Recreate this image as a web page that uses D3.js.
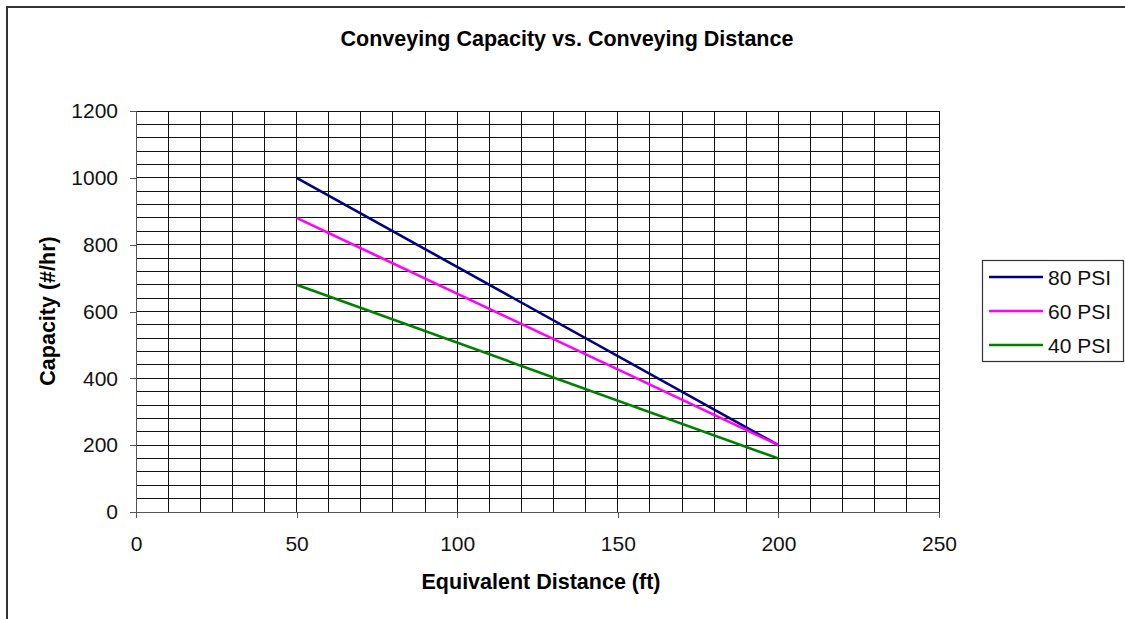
<!DOCTYPE html>
<html>
<head>
<meta charset="utf-8">
<script src="https://cdn.jsdelivr.net/npm/d3@7"></script>
<style>
    body { margin: 0; background: white; }
    svg { display: block; }
</style>
</head>
<body>
<script>

const distances = [50, 200]
const psi80 = [1000, 200]
const psi60 = [880, 200]
const psi40 = [680, 160]

const seriesNames = ['80 PSI', '60 PSI', '40 PSI']
const seriesColors = ['#000080', '#ff00ff', '#008000']

const xTicks = [0, 50, 100, 150, 200, 250]
const yTicks = [0, 200, 400, 600, 800, 1000, 1200]

const font = "'Liberation Sans', Arial, sans-serif"

let chart = {}

function setupChart (){

    chart.width = 1125
    chart.height = 619
    chart.left = 136
    chart.right = 939
    chart.top = 111
    chart.bottom = 512

    const svg = d3.select('body')
        .append('svg')
        .attr('width', chart.width)
        .attr('height', chart.height)

    // outer chart border, runs off the right and bottom of the window
    svg.append('rect')
        .attr('x', 7)
        .attr('y', 7)
        .attr('width', 1140)
        .attr('height', 640)
        .attr('fill', 'white')
        .attr('stroke', '#333')
        .attr('stroke-width', 2)

    const x = d3.scaleLinear().domain([0, 250]).range([chart.left, chart.right])
    const y = d3.scaleLinear().domain([0, 1200]).range([chart.bottom, chart.top])

    addGrid(svg, x, y)
    addAxes(svg, x, y)
    addLines(svg, x, y)
    addLegend(svg)

    svg.append('text')
        .text('Conveying Capacity vs. Conveying Distance')
        .attr('x', 567)
        .attr('y', 46)
        .style('font-family', font)
        .style('font-weight', 'bold')
        .style('font-size', '21.5px')
        .style('text-anchor', 'middle')

    svg.append('text')
        .text('Equivalent Distance (ft)')
        .attr('x', 541)
        .attr('y', 589)
        .style('font-family', font)
        .style('font-weight', 'bold')
        .style('font-size', '21.5px')
        .style('text-anchor', 'middle')

    svg.append('text')
        .text('Capacity (#/hr)')
        .attr('transform', 'translate(55, 311) rotate(-90)')
        .style('font-family', font)
        .style('font-weight', 'bold')
        .style('font-size', '21.5px')
        .style('text-anchor', 'middle')
}


function addGrid (svg, x, y){

    const grid = svg.append('g')
        .attr('stroke', '#111')
        .attr('stroke-width', 1)
        .attr('shape-rendering', 'crispEdges')

    grid.selectAll('.hline')
        .data(d3.range(0, 1201, 40))
        .join('line')
        .attr('class', 'hline')
        .attr('x1', chart.left)
        .attr('x2', chart.right)
        .attr('y1', d => y(d))
        .attr('y2', d => y(d))

    grid.selectAll('.vline')
        .data(d3.range(0, 251, 10))
        .join('line')
        .attr('class', 'vline')
        .attr('x1', d => x(d))
        .attr('x2', d => x(d))
        .attr('y1', chart.top)
        .attr('y2', chart.bottom)
}


function addAxes (svg, x, y){

    const xAxis = svg.append('g')
        .attr('transform', 'translate(0,' + chart.bottom + ')')
        .call(d3.axisBottom(x).tickValues(xTicks).tickFormat(d3.format('d')).tickSize(6).tickPadding(18))

    const yAxis = svg.append('g')
        .attr('transform', 'translate(' + chart.left + ',0)')
        .call(d3.axisLeft(y).tickValues(yTicks).tickFormat(d3.format('d')).tickSize(6).tickPadding(12))

    for (const axis of [xAxis, yAxis]){
        axis.select('.domain').attr('stroke', '#555').attr('shape-rendering', 'crispEdges')
        axis.selectAll('.tick line').attr('stroke', '#555').attr('shape-rendering', 'crispEdges')
        axis.selectAll('.tick text')
            .attr('fill', '#111')
            .style('font-family', font)
            .style('font-size', '21px')
    }
}


function addLines (svg, x, y){

    const series = [psi80, psi60, psi40]

    const line = d3.line()
        .x((d, i) => x(distances[i]))
        .y(d => y(d))

    svg.append('g')
        .selectAll('path')
        .data(series)
        .join('path')
        .attr('d', d => line(d))
        .attr('fill', 'none')
        .attr('stroke', (d, i) => seriesColors[i])
        .attr('stroke-width', 2.6)
}


function addLegend (svg){

    const legend = svg.append('g')

    legend.append('rect')
        .attr('x', 982.5)
        .attr('y', 260.5)
        .attr('width', 141)
        .attr('height', 101)
        .attr('fill', 'white')
        .attr('stroke', '#333')
        .attr('stroke-width', 1.2)

    const rows = legend.selectAll('.row')
        .data(seriesNames)
        .join('g')
        .attr('class', 'row')
        .attr('transform', (d, i) => 'translate(0,' + (277 + i * 34) + ')')

    rows.append('line')
        .attr('x1', 989)
        .attr('x2', 1043)
        .attr('stroke', (d, i) => seriesColors[i])
        .attr('stroke-width', 2.6)

    rows.append('text')
        .text(d => d)
        .attr('x', 1048)
        .attr('y', 7.5)
        .style('font-family', font)
        .style('font-size', '21px')
        .attr('fill', '#111')
}

setupChart()

</script>
</body>
</html>
